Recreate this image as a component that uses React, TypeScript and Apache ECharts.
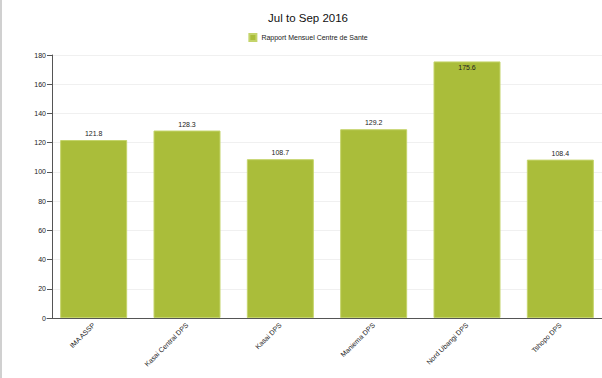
import React, { useEffect, useRef } from "react";
import * as echarts from "echarts";

const title = "Jul to Sep 2016";
const seriesName = "Rapport Mensuel Centre de Sante";
const categories = ["IMA ASSP", "Kasai Central DPS", "Kasai DPS", "Maniema DPS", "Nord Ubangi DPS", "Tshopo DPS"];
const values = [121.8, 128.3, 108.7, 129.2, 175.6, 108.4];

export default function App() {
  const ref = useRef<HTMLDivElement>(null);
  useEffect(() => {
    if (!ref.current) return;
    const chart = echarts.init(ref.current, null, { renderer: "svg" });
    const font = "Liberation Sans, Arial, sans-serif";
    chart.setOption({
      animation: false,
      backgroundColor: "#ffffff",
      title: {
        text: title,
        left: "center",
        top: 7,
        textStyle: { fontFamily: font, fontSize: 11.5, fontWeight: "normal", color: "#111" },
      },
      legend: {
        top: 28,
        left: "center",
        itemWidth: 7,
        itemHeight: 7,
        icon: "rect",
        itemGap: 4,
        textStyle: { fontFamily: font, fontSize: 7, color: "#222" },
        data: [seriesName],
      },
      graphic: [
        { type: "rect", left: 0, top: 0, shape: { width: 2, height: 378 }, style: { fill: "#d0d0d0" } },
      ],
      grid: { left: 47, right: 9, top: 55, bottom: 60, containLabel: false },
      xAxis: {
        type: "category",
        data: categories,
        axisLine: { lineStyle: { color: "#555" } },
        axisTick: { alignWithLabel: true, lineStyle: { color: "#555" } },
        axisLabel: { rotate: 45, fontFamily: font, fontSize: 7, color: "#222", margin: 6, interval: 0 },
      },
      yAxis: {
        type: "value",
        min: 0,
        max: 180,
        interval: 20,
        offset: -5,
        axisLine: { show: true, lineStyle: { color: "#555" } },
        axisTick: { show: true, lineStyle: { color: "#555" } },
        axisLabel: { fontFamily: font, fontSize: 7, color: "#222", margin: 6 },
        splitLine: { lineStyle: { color: "#f0f0f0" } },
      },
      series: [
        {
          name: seriesName,
          type: "bar",
          barWidth: 67,
          itemStyle: { color: "#aabd3a", borderColor: "#c4d46a", borderWidth: 1 },
          label: {
            show: true,
            position: "top",
            distance: 3,
            fontFamily: font,
            fontSize: 7,
            color: "#222",
          },
          data: values.map((v) =>
            v > 170 ? { value: v, label: { position: "insideTop", distance: 3 } } : v
          ),
        },
      ],
    });
    return () => chart.dispose();
  }, []);
  return (
    <div style={{ position: "absolute", left: 0, top: 0, width: 602, height: 378, overflow: "hidden" }}>
      <div ref={ref} style={{ width: 616, height: 378 }} />
    </div>
  );
}
